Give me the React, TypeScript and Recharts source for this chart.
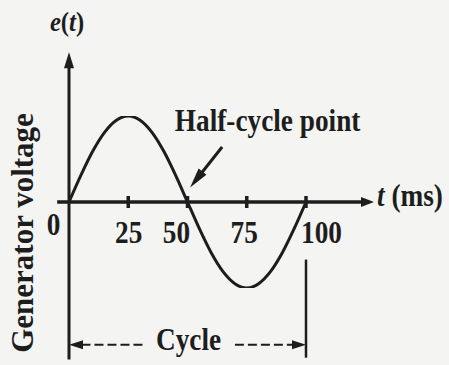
import React from "react";
import { ComposedChart, Line, XAxis, YAxis, ReferenceLine, ReferenceDot } from "recharts";

// one full cycle of the generator output, sampled every 5 ms
const timeMs = [0, 5, 10, 15, 20, 25, 30, 35, 40, 45, 50, 55, 60, 65, 70, 75, 80, 85, 90, 95, 100];
const voltage = [0, 0.31, 0.59, 0.81, 0.95, 1.0, 0.95, 0.81, 0.59, 0.31, 0, -0.31, -0.59, -0.81, -0.95, -1.0, -0.95, -0.81, -0.59, -0.31, 0];

const tickValues = [0, 25, 50, 75, 100];
const tickLabels = ["0", "25", "50", "75", "100"];

const cycleStart = 0;
const cycleEnd = 100;

// axis extents and annotation anchors, in data units (ms, volts)
const axisTimeMin = -5;
const axisTimeMax = 128.7;
const axisVoltMin = -1.83;
const axisVoltMax = 1.74;
const cycleLevel = -1.66;
const cycleMarkerTop = -0.67;
const pointerFrom = { t: 64.6, v: 0.64 };
const pointerTo = { t: 51.1, v: 0.17 };
const halfCycleLabelAt = { t: 83.8, v: 0.83 };

const data = timeMs.map((t, i) => ({ t, e: voltage[i] }));

const INK = "#1d1d1d";
const PAPER = "#f4f4f2";
const SERIF = "'Liberation Serif', 'Times New Roman', serif";

// horizontal text in the figure is a bit narrow, so squeeze it sideways
function NarrowText({ x, y, size = 31, anchor = "middle", children }: any) {
  return (
    <text
      transform={`translate(${x},${y}) scale(0.88,1)`}
      textAnchor={anchor}
      fontFamily={SERIF}
      fontSize={size}
      fontWeight="bold"
      fill={INK}
    >
      {children}
    </text>
  );
}

// line with a filled arrowhead at its second point
const arrowShape = (head: number, half: number, width: number, dash?: string) => (p: any) => {
  const { x1, y1, x2, y2 } = p;
  const dx = x2 - x1;
  const dy = y2 - y1;
  const len = Math.hypot(dx, dy) || 1;
  const ux = dx / len;
  const uy = dy / len;
  const bx = x2 - ux * head;
  const by = y2 - uy * head;
  const nx = -uy;
  const ny = ux;
  return (
    <g>
      <line x1={x1} y1={y1} x2={bx + ux} y2={by + uy} stroke={INK} strokeWidth={width} strokeDasharray={dash} />
      <polygon
        points={`${x2},${y2} ${bx + nx * half},${by + ny * half} ${bx - nx * half},${by - ny * half}`}
        fill={INK}
      />
    </g>
  );
};

// nudges for the tick labels: [dx, baseline offset]
const tickNudge: Record<string, [number, number]> = {
  "0": [-15.5, 33],
  "25": [0.5, 41],
  "50": [-11, 41],
  "75": [-2.5, 41],
  "100": [15.5, 41],
};

const tickShape = (label: string, value: number) => (p: any) => {
  const [dx, dy] = tickNudge[label];
  return (
    <g>
      {value > 0 && (
        <line x1={p.cx} y1={p.cy - 6} x2={p.cx} y2={p.cy + 6} stroke={INK} strokeWidth={3.5} />
      )}
      <NarrowText x={p.cx + dx} y={p.cy + dy}>{label}</NarrowText>
    </g>
  );
};

export default function App() {
  return (
    <div style={{ position: "absolute", left: 0, top: 0, width: 449, height: 365, background: PAPER }}>
      <ComposedChart
        width={449}
        height={365}
        data={data}
        margin={{ top: 116, right: 143, bottom: 77, left: 69 }}
      >
        <XAxis type="number" dataKey="t" domain={[0, 100]} hide allowDataOverflow />
        <YAxis type="number" domain={[-1, 1]} hide allowDataOverflow />

        {/* axes with arrowheads */}
        <ReferenceLine
          segment={[{ x: axisTimeMin, y: 0 }, { x: axisTimeMax, y: 0 }]}
          ifOverflow="visible"
          shape={arrowShape(13, 5, 3.5)}
        />
        <ReferenceLine
          segment={[{ x: 0, y: axisVoltMin }, { x: 0, y: axisVoltMax }]}
          ifOverflow="visible"
          shape={arrowShape(16, 5, 3)}
        />

        <Line
          type="monotone"
          dataKey="e"
          stroke={INK}
          strokeWidth={3}
          dot={false}
          isAnimationActive={false}
        />

        {tickValues.map((v, i) => (
          <ReferenceDot
            key={v}
            x={v}
            y={0}
            r={1}
            ifOverflow="visible"
            shape={tickShape(tickLabels[i], v)}
          />
        ))}

        {/* half-cycle pointer */}
        <ReferenceLine
          segment={[{ x: pointerFrom.t, y: pointerFrom.v }, { x: pointerTo.t, y: pointerTo.v }]}
          ifOverflow="visible"
          shape={arrowShape(20, 5, 3)}
        />
        <ReferenceDot
          x={halfCycleLabelAt.t}
          y={halfCycleLabelAt.v}
          r={1}
          ifOverflow="visible"
          shape={(p: any) => <NarrowText x={p.cx} y={p.cy}>Half-cycle point</NarrowText>}
        />

        {/* cycle span */}
        <ReferenceLine
          segment={[{ x: cycleEnd, y: cycleMarkerTop }, { x: cycleEnd, y: axisVoltMin + 0.02 }]}
          ifOverflow="visible"
          stroke={INK}
          strokeWidth={2.5}
        />
        <ReferenceLine
          segment={[{ x: 31, y: cycleLevel }, { x: cycleStart, y: cycleLevel }]}
          ifOverflow="visible"
          shape={arrowShape(14, 4.5, 2, "9 4")}
        />
        <ReferenceLine
          segment={[{ x: 70, y: cycleLevel }, { x: cycleEnd, y: cycleLevel }]}
          ifOverflow="visible"
          shape={arrowShape(14, 4.5, 2, "9 4")}
        />
        <ReferenceDot
          x={(cycleStart + cycleEnd) / 2}
          y={cycleLevel}
          r={1}
          ifOverflow="visible"
          shape={(p: any) => <NarrowText x={p.cx + 1} y={p.cy + 5}>Cycle</NarrowText>}
        />

        {/* axis titles */}
        <ReferenceDot
          x={axisTimeMax}
          y={0}
          r={1}
          ifOverflow="visible"
          shape={(p: any) => (
            <NarrowText x={p.cx + 3} y={p.cy + 4} anchor="start">
              <tspan fontStyle="italic">t</tspan> (ms)
            </NarrowText>
          )}
        />
        <ReferenceDot
          x={0}
          y={axisVoltMax}
          r={1}
          ifOverflow="visible"
          shape={(p: any) => (
            <NarrowText x={p.cx - 2} y={p.cy - 21} size={28}>
              <tspan fontStyle="italic">e</tspan>(<tspan fontStyle="italic">t</tspan>)
            </NarrowText>
          )}
        />
        <ReferenceDot
          x={0}
          y={-0.36}
          r={1}
          ifOverflow="visible"
          shape={(p: any) => (
            <text
              transform={`translate(${p.cx - 36},${p.cy}) rotate(-90)`}
              textAnchor="middle"
              fontFamily={SERIF}
              fontSize={31}
              fontWeight="bold"
              fill={INK}
            >
              Generator voltage
            </text>
          )}
        />
      </ComposedChart>
    </div>
  );
}
